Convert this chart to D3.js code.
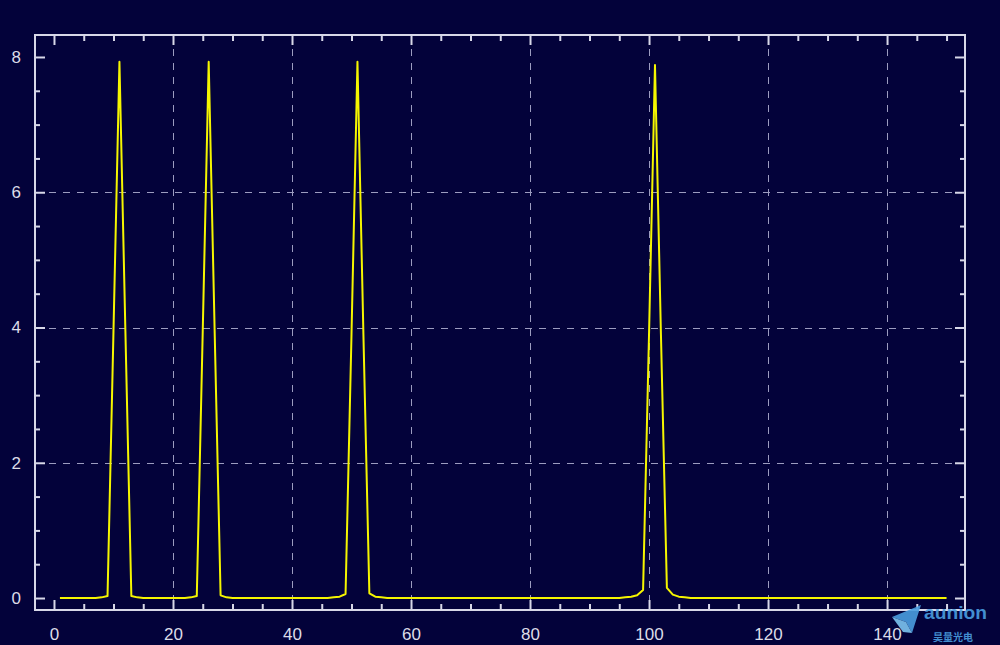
<!DOCTYPE html>
<html><head><meta charset="utf-8">
<script src="https://cdn.jsdelivr.net/npm/d3@7"></script>
<style>
html,body{margin:0;padding:0;background:#03023a;}
svg{display:block;}
</style></head>
<body>
<svg id="chart" width="1000" height="645"></svg>
<script>
// ---- data ----
const xStart = 1, xEnd = 150;
const yValues = [
  0,0,0,0,0,0,0,0.01,0.03,3.95,
  7.93,3.95,0.03,0.01,0,0,0,0,0,0,
  0,0,0.01,0.03,3.95,7.93,3.95,0.04,0.01,0,
  0,0,0,0,0,0,0,0,0,0,
  0,0,0,0,0,0,0.01,0.02,0.06,3.9,
  7.93,3.9,0.07,0.02,0.01,0,0,0,0,0,
  0,0,0,0,0,0,0,0,0,0,
  0,0,0,0,0,0,0,0,0,0,
  0,0,0,0,0,0,0,0,0,0,
  0,0,0,0,0,0.01,0.02,0.04,0.12,3.9,
  7.88,3.9,0.15,0.05,0.02,0.01,0,0,0,0,
  0,0,0,0,0,0,0,0,0,0,
  0,0,0,0,0,0,0,0,0,0,
  0,0,0,0,0,0,0,0,0,0,
  0,0,0,0,0,0,0,0,0,0
];
const xMajorTicks = [0,20,40,60,80,100,120,140];
const yMajorTicks = [0,2,4,6,8];
const xGridTicks = [20,40,60,80,100,120,140];
const yGridTicks = [2,4,6];

// ---- layout ----
const W = 1000, H = 645;
const L = 35, R = 965, T = 35, B = 610;
const svg = d3.select("#chart");
svg.append("rect").attr("width",W).attr("height",H).attr("fill","#03023a");

const x = d3.scaleLinear().domain([-3.19, 153.1]).range([L, R]);
const y = d3.scaleLinear().domain([-0.177, 8.325]).range([B, T]);

const axisColor = "#d8d8e8";
const xMinor = d3.range(0, 155, 5).filter(v => v % 20 !== 0);
const yMinor = d3.range(0, 8.3, 0.5).filter(v => v % 2 !== 0);

// grid
const grid = svg.append("g").attr("stroke","#9c9cc0").attr("stroke-width",1).attr("stroke-dasharray","7,7");
grid.selectAll(".gx").data(xGridTicks).join("line")
  .attr("x1", d => Math.round(x(d))+0.5).attr("x2", d => Math.round(x(d))+0.5)
  .attr("y1", T).attr("y2", B);
grid.selectAll(".gy").data(yGridTicks).join("line")
  .attr("y1", d => Math.round(y(d))+0.5).attr("y2", d => Math.round(y(d))+0.5)
  .attr("x1", L).attr("x2", R);

// line
const data = yValues.map((v,i) => ({x: xStart + i, y: v}));
svg.append("path").datum(data)
  .attr("fill","none").attr("stroke","#f5f500").attr("stroke-width",2)
  .attr("stroke-linejoin","round")
  .attr("d", d3.line().x(d => x(d.x)).y(d => y(d.y)));

// axes with inward ticks
function styleAxis(g){
  g.select(".domain").remove();
  g.selectAll(".tick line").attr("stroke",axisColor).attr("stroke-width",2);
  g.selectAll(".tick text").attr("fill","#dcdce8").attr("font-family","'Liberation Sans', Arial, sans-serif").attr("font-size",17);
}
// bottom major
svg.append("g").attr("transform",`translate(0,${B})`)
  .call(d3.axisBottom(x).tickValues(xMajorTicks).tickSizeInner(-10).tickSizeOuter(0).tickPadding(18).tickFormat(d3.format("d")))
  .call(styleAxis);
svg.append("g").attr("transform",`translate(0,${B})`)
  .call(d3.axisBottom(x).tickValues(xMinor).tickSizeInner(-6).tickSizeOuter(0).tickFormat(""))
  .call(styleAxis);
// top
svg.append("g").attr("transform",`translate(0,${T})`)
  .call(d3.axisTop(x).tickValues(xMajorTicks).tickSizeInner(-10).tickSizeOuter(0).tickFormat(""))
  .call(styleAxis);
svg.append("g").attr("transform",`translate(0,${T})`)
  .call(d3.axisTop(x).tickValues(xMinor).tickSizeInner(-6).tickSizeOuter(0).tickFormat(""))
  .call(styleAxis);
// left
svg.append("g").attr("transform",`translate(${L},0)`)
  .call(d3.axisLeft(y).tickValues(yMajorTicks).tickSizeInner(-10).tickSizeOuter(0).tickPadding(14).tickFormat(d3.format("d")))
  .call(styleAxis);
svg.append("g").attr("transform",`translate(${L},0)`)
  .call(d3.axisLeft(y).tickValues(yMinor).tickSizeInner(-5).tickSizeOuter(0).tickFormat(""))
  .call(styleAxis);
// right
svg.append("g").attr("transform",`translate(${R},0)`)
  .call(d3.axisRight(y).tickValues(yMajorTicks).tickSizeInner(-10).tickSizeOuter(0).tickFormat(""))
  .call(styleAxis);
svg.append("g").attr("transform",`translate(${R},0)`)
  .call(d3.axisRight(y).tickValues(yMinor).tickSizeInner(-5).tickSizeOuter(0).tickFormat(""))
  .call(styleAxis);

// frame
svg.append("rect").attr("x",L).attr("y",T).attr("width",R-L).attr("height",B-T)
  .attr("fill","none").attr("stroke",axisColor).attr("stroke-width",2);

// watermark
const wm = svg.append("g").attr("opacity",0.9);
wm.append("path").attr("d","M892,617 L921,605 L912,633 L906,622 Z").attr("fill","#4a9ee0");
wm.append("path").attr("d","M892,617 L906,622 L912,633 L903,632 Z").attr("fill","#7cc4f0");
wm.append("text").attr("x",924).attr("y",619).attr("fill","#4a9ee0")
  .attr("font-family","'Liberation Sans', Arial, sans-serif").attr("font-weight","bold").attr("font-size",19)
  .attr("textLength",63).attr("lengthAdjust","spacingAndGlyphs").text("aunion");
wm.append("text").attr("x",933).attr("y",641).attr("fill","#4a9ee0")
  .attr("font-family","'Noto Sans CJK SC', sans-serif").attr("font-weight","bold").attr("font-size",10).text("昊量光电");
</script>
</body></html>
